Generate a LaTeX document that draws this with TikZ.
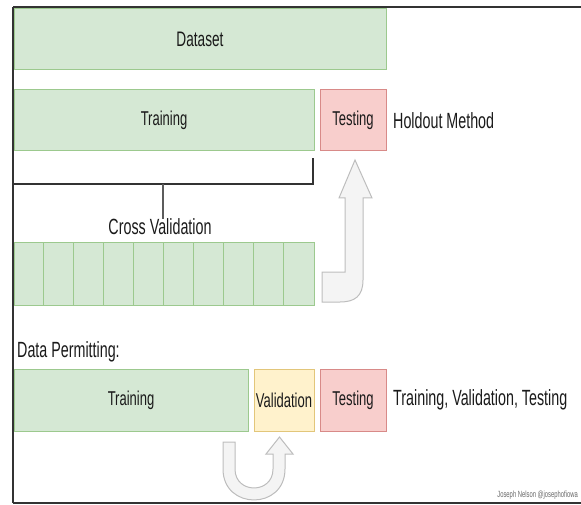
\documentclass[tikz,border=0pt]{standalone}
\usepackage{fontspec}
\newfontfamily\nar[FakeStretch=0.65]{Liberation Sans}
\definecolor{gfill}{HTML}{D5E8D4}
\definecolor{gline}{HTML}{9CC98E}
\definecolor{rfill}{HTML}{F8CECC}
\definecolor{rline}{HTML}{D88A88}
\definecolor{yfill}{HTML}{FFF2CC}
\definecolor{yline}{HTML}{E2C67A}
\definecolor{afill}{HTML}{F4F4F4}
\definecolor{aline}{HTML}{BDBDBD}
\definecolor{txt}{HTML}{1A1A1A}
\definecolor{frame}{HTML}{333333}
\tikzset{
  box/.style={draw, line width=1pt, inner sep=0pt, minimum height=61pt, text=txt,
    font=\nar\fontsize{20}{20}\selectfont},
  gbox/.style={box, fill=gfill, draw=gline},
  rbox/.style={box, fill=rfill, draw=rline},
  ybox/.style={box, fill=yfill, draw=yline},
  lbl/.style={inner sep=0pt, text=txt, font=\nar\fontsize{22}{22}\selectfont},
  bigarrow/.style={fill=afill, draw=aline, line width=1pt, line join=miter},
  bracket/.style={draw=frame, line width=1.5pt},
  framel/.style={draw=frame, line width=1.7pt}
}
\begin{document}
\begin{tikzpicture}[x=1pt, y=-1pt]
\useasboundingbox (0,0) rectangle (581,505);
% boxes
\node[gbox, minimum width=372pt, font=\nar\fontsize{21}{21}\selectfont] (dataset) at (200,39.5) {Dataset};
\node[gbox, minimum width=300pt] (train1) at (164,120.5) {Training};
\node[rbox, minimum width=66pt] (test1) at (353,120.5) {Testing};
\node[lbl, anchor=west] (holdout) at (393,121) {Holdout Method};
\node[lbl] (cv) at (160,227) {Cross Validation};
\node[gbox, minimum width=300pt, minimum height=62pt] (cvbar) at (164,274) {};
\foreach \i in {1,...,9} {
  \draw[gline, line width=1pt] ([xshift=30*\i pt]cvbar.north west) -- ([xshift=30*\i pt]cvbar.south west);
}
\node[lbl, anchor=west] (dp) at (17,352) {Data Permitting:};
\node[gbox, minimum width=234pt, minimum height=62pt] (train2) at (131,400) {Training};
\node[ybox, minimum width=60pt, minimum height=62pt] (valid) at (284,400) {Validation};
\node[rbox, minimum width=66pt, minimum height=62pt] (test2) at (353,400) {Testing};
\node[lbl, anchor=west] (tvt) at (393,400) {Training, Validation, Testing};
% bracket under training
\coordinate (bl) at (13,158);
\coordinate (br) at (313,158);
\draw[bracket] (bl) -- (13,184) -- (313,184) -- (br);
\coordinate (bmid) at (163,184);
\draw[draw=frame!80, line width=1.2pt] (bmid) -- (cv.north -| bmid);
% L arrow: cross validation -> testing
\draw[bigarrow] (322,272) -- (345,272) -- (345,198) -- (339,198) -- (355,160) -- (372,198) -- (363,198)
  -- (363,280) .. controls (363,296) and (355,302) .. (340,302) -- (322,302) -- cycle;
% U arrow: training -> validation
\draw[bigarrow] (223,442) -- (235,442) -- (235,469) .. controls (235,494.3) and (273,494.3) .. (273,469)
  -- (273,454) -- (266,454) -- (279.5,437) -- (293,454) -- (285,454) -- (285,469)
  .. controls (285,510.3) and (223,510.3) .. (223,469) -- cycle;
% frame
\draw[framel] (13,7) -- (581,7);
\draw[framel] (13,7) -- (13,503);
\draw[framel] (13,503) -- (581,503);
% watermark
\node[inner sep=0pt, anchor=south east, text=black!60, font=\nar\fontsize{9}{9}\selectfont] (wm) at (578,500) {Joseph Nelson @josephofiowa};
\end{tikzpicture}
\end{document}
